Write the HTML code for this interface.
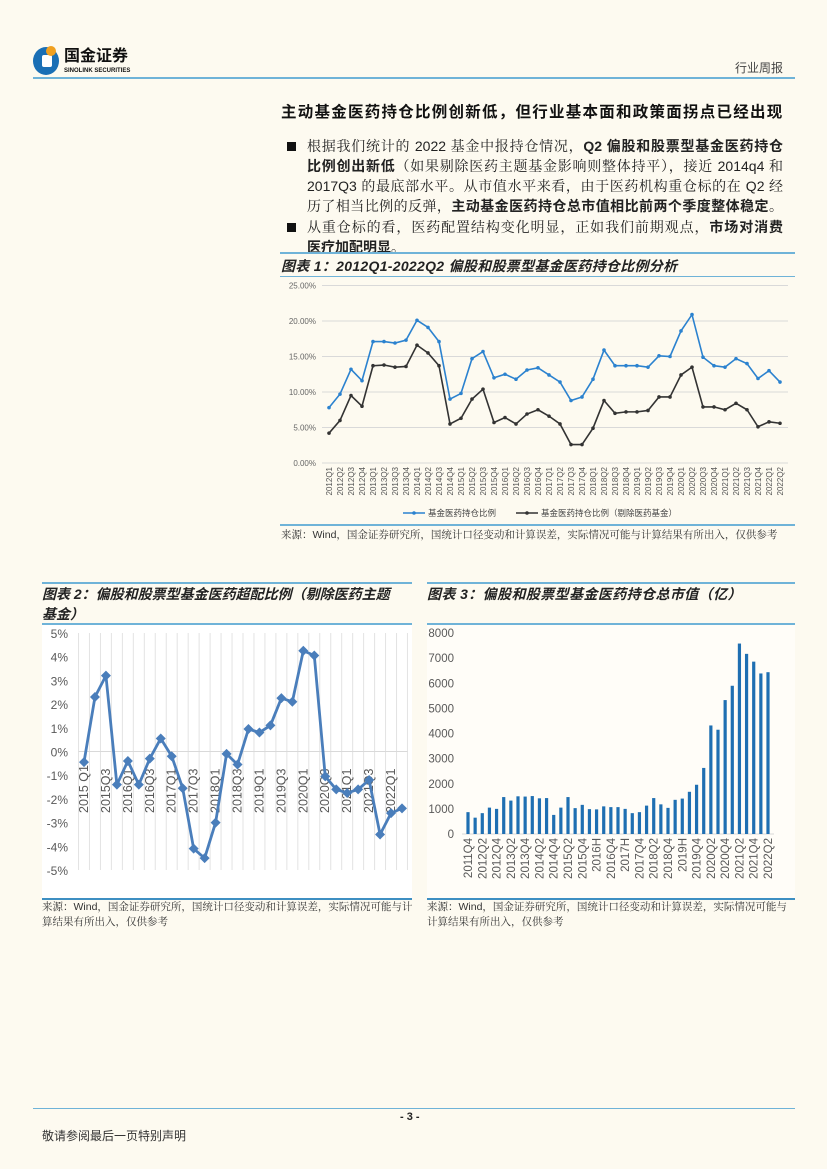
<!DOCTYPE html>
<html><head><meta charset="utf-8">
<style>
html,body{margin:0;padding:0}
body{width:827px;height:1169px;background:#fdfaf0;position:relative;overflow:hidden;font-family:"Liberation Sans","Noto Sans CJK SC",sans-serif;color:#222}
.abs{position:absolute}
.ln{position:absolute;left:307px;width:476px;font-size:14px;line-height:20px;height:20px;text-align:justify;text-align-last:justify;font-family:"Liberation Sans","Noto Serif CJK SC",serif;white-space:nowrap}
.ln b{font-family:"Liberation Sans","Noto Sans CJK SC",sans-serif}
.ln.last{text-align-last:left}
.b{font-weight:bold}
.src{font-size:10.5px;line-height:15px;color:#333;font-family:"Liberation Sans","Noto Serif CJK SC",serif}
.ttl{font-size:14px;font-weight:bold;font-style:italic;font-family:"Liberation Sans","Noto Sans CJK SC",sans-serif}
.hl{height:2px;background:#6fb3d8}
</style></head><body>
<div class="abs" style="left:33px;top:47px;width:26px;height:28px;border-radius:50%;background:#1a6fb5"></div>
<div class="abs" style="left:42px;top:55px;width:10px;height:12px;background:#fff;border-radius:2px"></div>
<div class="abs" style="left:46px;top:46px;width:10px;height:10px;border-radius:50%;background:#f0a020"></div>
<div class="abs b" style="left:64px;top:48px;font-size:16px;line-height:18px;color:#111">国金证券</div>
<div class="abs b" style="left:64px;top:68px;font-size:6px;line-height:7px;color:#111">SINOLINK SECURITIES</div>
<div class="abs" style="left:735px;top:59px;font-size:12px;color:#444">行业周报</div>
<div class="abs hl" style="left:33px;top:77px;width:762px"></div>

<div class="abs b" style="left:281px;top:100px;font-size:15.5px;letter-spacing:1.25px;color:#111">主动基金医药持仓比例创新低，但行业基本面和政策面拐点已经出现</div>
<div class="abs" style="left:287px;top:142px;width:9px;height:9px;background:#111"></div>
<div>
<div class="ln" style="top:136px">根据我们统计的 2022 基金中报持仓情况，<b>Q2 偏股和股票型基金医药持仓</b></div>
<div class="ln" style="top:156px"><b>比例创出新低</b>（如果剔除医药主题基金影响则整体持平），接近 2014q4 和</div>
<div class="ln" style="top:176px">2017Q3 的最底部水平。从市值水平来看，由于医药机构重仓标的在 Q2 经</div>
<div class="ln" style="top:196px">历了相当比例的反弹，<b>主动基金医药持仓总市值相比前两个季度整体稳定</b>。</div>
</div>
<div class="abs" style="left:287px;top:223px;width:9px;height:9px;background:#111"></div>
<div>
<div class="ln" style="top:217px">从重仓标的看，医药配置结构变化明显，正如我们前期观点，<b>市场对消费</b></div>
<div class="ln last" style="top:237px"><b>医疗加配明显</b>。</div>
</div>

<div class="abs hl" style="left:280px;top:252px;width:515px"></div>
<div class="abs ttl" style="left:281px;top:256px;letter-spacing:0.3px">图表 1：2012Q1-2022Q2 偏股和股票型基金医药持仓比例分析</div>
<div class="abs" style="left:280px;top:276px;width:515px;height:1px;background:#6fb3d8"></div>
<svg class="abs" id="c1" style="left:270px;top:277px" width="525" height="248"></svg>
<div class="abs hl" style="left:280px;top:524px;width:515px"></div>
<div class="abs src" style="left:281px;top:528px">来源：Wind，国金证券研究所，国统计口径变动和计算误差，实际情况可能与计算结果有所出入，仅供参考</div>

<div class="abs hl" style="left:42px;top:582px;width:370px"></div>
<div class="abs ttl" style="left:42px;top:584px;width:380px;line-height:20px;white-space:nowrap">图表 2：偏股和股票型基金医药超配比例（剔除医药主题<br>基金）</div>
<div class="abs" style="left:42px;top:623px;width:370px;height:273px;background:#fff;border-top:2px solid #6fb3d8;border-bottom:2px solid #3d8fc2"></div>
<svg class="abs" id="c2" style="left:42px;top:625px" width="370" height="270"></svg>
<div class="abs src" style="left:42px;top:900px;width:372px">来源：Wind，国金证券研究所，国统计口径变动和计算误差，实际情况可能与计算结果有所出入，仅供参考</div>

<div class="abs hl" style="left:427px;top:582px;width:368px"></div>
<div class="abs ttl" style="left:427px;top:584px;line-height:20px;letter-spacing:0.4px">图表 3：偏股和股票型基金医药持仓总市值（亿）</div>
<div class="abs" style="left:427px;top:623px;width:368px;height:273px;background:#fffdf8;border-top:2px solid #6fb3d8;border-bottom:2px solid #3d8fc2"></div>
<svg class="abs" id="c3" style="left:420px;top:625px" width="375" height="270"></svg>
<div class="abs src" style="left:427px;top:900px;width:370px">来源：Wind，国金证券研究所，国统计口径变动和计算误差，实际情况可能与计算结果有所出入，仅供参考</div>

<div class="abs" style="left:33px;top:1108px;width:762px;height:1px;background:#6fb3d8"></div>
<div class="abs b" style="left:400px;top:1111px;font-size:11px">- 3 -</div>
<div class="abs" style="left:42px;top:1127px;font-size:12px;color:#333">敬请参阅最后一页特别声明</div>

<script>
const c1Cats = ["2012Q1","2012Q2","2012Q3","2012Q4","2013Q1","2013Q2","2013Q3","2013Q4","2014Q1","2014Q2","2014Q3","2014Q4","2015Q1","2015Q2","2015Q3","2015Q4","2016Q1","2016Q2","2016Q3","2016Q4","2017Q1","2017Q2","2017Q3","2017Q4","2018Q1","2018Q2","2018Q3","2018Q4","2019Q1","2019Q2","2019Q3","2019Q4","2020Q1","2020Q2","2020Q3","2020Q4","2021Q1","2021Q2","2021Q3","2021Q4","2022Q1","2022Q2"];
const c1Total = [7.8,9.7,13.2,11.6,17.1,17.1,16.9,17.3,20.1,19.1,17.1,9.0,9.8,14.7,15.7,12.0,12.5,11.8,13.1,13.4,12.4,11.4,8.8,9.3,11.8,15.9,13.7,13.7,13.7,13.5,15.1,15.0,18.6,20.9,14.9,13.7,13.5,14.7,14.0,11.9,13.0,11.4];
const c1ExPharma = [4.2,6.0,9.5,8.0,13.7,13.8,13.5,13.6,16.6,15.5,13.7,5.5,6.3,9.0,10.4,5.7,6.4,5.5,6.9,7.5,6.6,5.5,2.6,2.6,4.9,8.8,7.0,7.2,7.2,7.4,9.3,9.3,12.4,13.5,7.9,7.9,7.5,8.4,7.5,5.1,5.8,5.6];
const c1Ticks = [0,5,10,15,20,25];

const c2Cats = ["2015Q1","2015Q2","2015Q3","2015Q4","2016Q1","2016Q2","2016Q3","2016Q4","2017Q1","2017Q2","2017Q3","2017Q4","2018Q1","2018Q2","2018Q3","2018Q4","2019Q1","2019Q2","2019Q3","2019Q4","2020Q1","2020Q2","2020Q3","2020Q4","2021Q1","2021Q2","2021Q3","2021Q4","2022Q1","2022Q2"];
const c2Values = [-0.45,2.3,3.2,-1.4,-0.4,-1.4,-0.3,0.55,-0.2,-1.55,-4.1,-4.5,-3.0,-0.1,-0.55,0.95,0.8,1.1,2.25,2.1,4.25,4.05,-1.05,-1.6,-1.75,-1.6,-1.2,-3.5,-2.6,-2.4];
const c2Ticks = [-5,-4,-3,-2,-1,0,1,2,3,4,5];

const c3Cats = ["2011Q4","2012Q1","2012Q2","2012Q3","2012Q4","2013Q1","2013Q2","2013Q3","2013Q4","2014Q1","2014Q2","2014Q3","2014Q4","2015Q1","2015Q2","2015Q3","2015Q4","2016Q1","2016H","2016Q3","2016Q4","2017Q1","2017H","2017Q3","2017Q4","2018Q1","2018Q2","2018Q3","2018Q4","2019Q1","2019H","2019Q3","2019Q4","2020Q1","2020Q2","2020Q3","2020Q4","2021Q1","2021Q2","2021Q3","2021Q4","2022Q1","2022Q2"];
const c3Values = [870,650,830,1050,1000,1470,1330,1500,1490,1510,1420,1430,760,1050,1470,1030,1160,990,980,1100,1070,1070,1000,830,870,1130,1430,1180,1040,1360,1410,1680,1960,2630,4320,4150,5330,5900,7580,7170,6860,6390,6440];
const c3Ticks = [0,1000,2000,3000,4000,5000,6000,7000,8000];

const NS = "http://www.w3.org/2000/svg";
function mk(svg, tag, attrs, txt) {
  const e = document.createElementNS(NS, tag);
  for (const k in attrs) e.setAttribute(k, attrs[k]);
  if (txt !== undefined) e.textContent = txt;
  svg.appendChild(e);
  return e;
}

// Chart 1
(function(){
  const svg = document.getElementById('c1');
  const x0 = 59, x1 = 510, yTop = 8.5, yBot = 186;
  const x = i => x0 + (x1 - x0) * i / (c1Cats.length - 1);
  const y = v => yBot - (yBot - yTop) * v / 25;
  c1Ticks.forEach(t => {
    const g = mk(svg, 'line', {x1: 52, x2: 518, y1: y(t), y2: y(t), stroke: '#d9d9d9', 'stroke-width': 1});
    
    
    const l = mk(svg, 'text', {x: 46, y: y(t) + 3, 'text-anchor': 'end', 'font-size': 8, fill: '#666'}, t.toFixed(2) + '%');
    
    
  });
  c1Cats.forEach((c, i) => {
    const l = mk(svg, 'text', {x: 0, y: 0, 'text-anchor': 'end', 'font-size': 8, fill: '#555', transform: `translate(${x(i)+3},${yBot+4}) rotate(-90)`}, c);
    
    
  });
  function series(vals, color, name) {
    const p = mk(svg, 'polyline', {points: vals.map((v, i) => x(i) + ',' + y(v)).join(' '), fill: 'none', stroke: color, 'stroke-width': 1.6});
    
    
    vals.forEach((v, i) => {
      const d = mk(svg, 'circle', {cx: x(i), cy: y(v), r: 1.8, fill: color});
      
      
    });
  }
  series(c1Total, '#2b82cf', 'chart1-total');
  series(c1ExPharma, '#333333', 'chart1-ex-pharma');
  const ly = 236;
  mk(svg, 'line', {x1: 133, x2: 155, y1: ly, y2: ly, stroke: '#2b82cf', 'stroke-width': 1.6});
  mk(svg, 'circle', {cx: 144, cy: ly, r: 1.8, fill: '#2b82cf'});
  const t1 = mk(svg, 'text', {x: 158, y: ly + 3, 'font-size': 8.5, fill: '#444'}, '基金医药持仓比例');
  
  
  mk(svg, 'line', {x1: 246, x2: 268, y1: ly, y2: ly, stroke: '#333', 'stroke-width': 1.6});
  mk(svg, 'circle', {cx: 257, cy: ly, r: 1.8, fill: '#333'});
  const t2 = mk(svg, 'text', {x: 271, y: ly + 3, 'font-size': 8.5, fill: '#444'}, '基金医药持仓比例（剔除医药基金）');
  
  
})();

// Chart 2
(function(){
  const svg = document.getElementById('c2');
  const x0 = 42, x1 = 360, yTop = 8, yBot = 245;
  const step = (x1 - x0) / (c2Cats.length - 1);
  const x = i => x0 + step * i;
  const y = v => yTop + (yBot - yTop) * (5 - v) / 10;
  c2Cats.forEach((c, i) => {
    const g = mk(svg, 'line', {x1: x(i) - step/2, x2: x(i) - step/2, y1: yTop, y2: yBot, stroke: '#e3e3e3', 'stroke-width': 1});
    
    
  });
  mk(svg, 'line', {x1: x(c2Cats.length-1) + step/2, x2: x(c2Cats.length-1) + step/2, y1: yTop, y2: yBot, stroke: '#e3e3e3'});
  mk(svg, 'line', {x1: x0 - step/2, x2: x1 + step/2, y1: y(0), y2: y(0), stroke: '#d9d9d9'});
  c2Ticks.forEach(t => {
    const l = mk(svg, 'text', {x: 26, y: y(t) + 5, 'text-anchor': 'end', 'font-size': 12, fill: '#595959'}, t + '%');
    
    
  });
  c2Cats.forEach((c, i) => {
    if (i % 2) return;
    const l = mk(svg, 'text', {x: 0, y: 0, 'font-size': 12.5, fill: '#595959', transform: `translate(${x(i)+4},${188}) rotate(-90)`}, c.slice(0,4) + (i===0?' ':'') + c.slice(4));
    
    
  });
  const p = mk(svg, 'polyline', {points: c2Values.map((v, i) => x(i) + ',' + y(v)).join(' '), fill: 'none', stroke: '#4a7ebb', 'stroke-width': 2.8, 'stroke-linejoin': 'round'});
  
  
  c2Values.forEach((v, i) => {
    const cx = x(i), cy = y(v);
    const d = mk(svg, 'polygon', {points: `${cx},${cy-5} ${cx+5},${cy} ${cx},${cy+5} ${cx-5},${cy}`, fill: '#4a7ebb'});
    
    
  });
})();

// Chart 3
(function(){
  const svg = document.getElementById('c3');
  const x0 = 48, x1 = 348, yTop = 8, yBot = 209;
  const x = i => x0 + (x1 - x0) * i / (c3Cats.length - 1);
  const y = v => yBot - (yBot - yTop) * v / 8000;
  mk(svg, 'line', {x1: 42, x2: 354, y1: yBot, y2: yBot, stroke: '#d9d9d9'});
  c3Ticks.forEach(t => {
    const l = mk(svg, 'text', {x: 34, y: y(t) + 4, 'text-anchor': 'end', 'font-size': 11.5, fill: '#595959'}, t);
    
    
  });
  c3Values.forEach((v, i) => {
    const b = mk(svg, 'rect', {x: x(i) - 1.6, y: y(v), width: 3.2, height: yBot - y(v), fill: '#1f6fb2'});
    
    
  });
  c3Cats.forEach((c, i) => {
    if (i % 2) return;
    const l = mk(svg, 'text', {x: 0, y: 0, 'text-anchor': 'end', 'font-size': 11.5, fill: '#595959', transform: `translate(${x(i)+4},${yBot+4}) rotate(-90)`}, c);
    
    
  });
})();
</script>
</body></html>
